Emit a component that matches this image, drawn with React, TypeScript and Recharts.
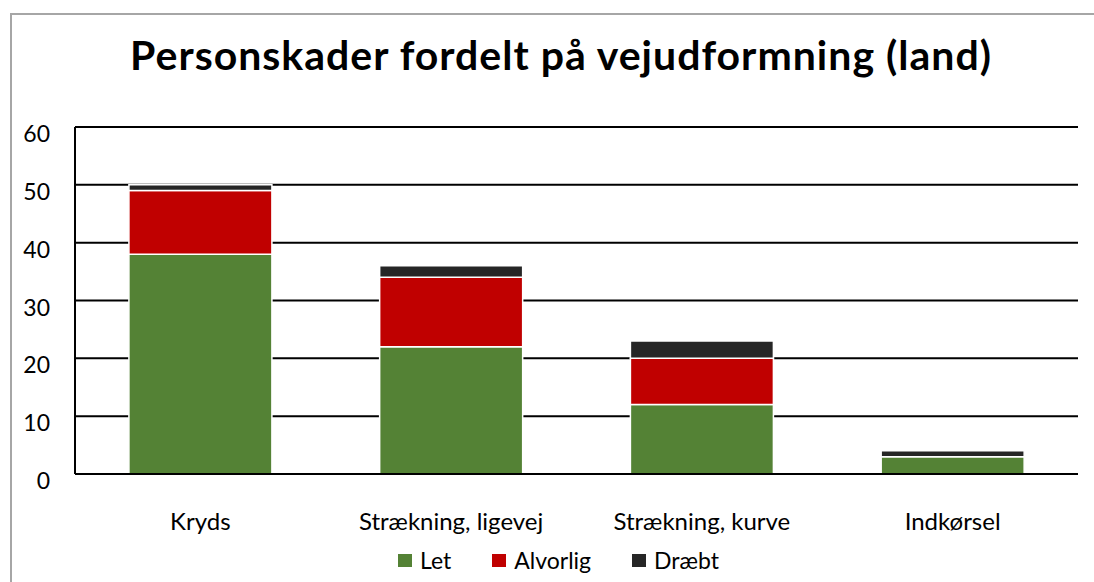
import React from "react";
import { BarChart, Bar, XAxis, YAxis, CartesianGrid, Legend } from "recharts";

const categories = ["Kryds", "Strækning, ligevej", "Strækning, kurve", "Indkørsel"];
const letValues = [38, 22, 12, 3];
const alvorligValues = [11, 12, 8, 0];
const draebtValues = [1, 2, 3, 1];
const yTicks = [0, 10, 20, 30, 40, 50, 60];

const seriesKeys = ["let", "alvorlig", "draebt"];
const seriesNames: Record<string, string> = { let: "Let", alvorlig: "Alvorlig", draebt: "Dræbt" };
const colors: Record<string, string> = { let: "#548235", alvorlig: "#C00000", draebt: "#262626" };
const title = "Personskader fordelt på vejudformning (land)";

const data = categories.map((c, i) => ({
  name: c,
  let: letValues[i],
  alvorlig: alvorligValues[i],
  draebt: draebtValues[i],
}));

const FONT = "Lato, 'Open Sans', sans-serif";

const LegendContent = (props: any) => {
  const { payload } = props;
  const sorted = [...(payload || [])].sort(
    (a: any, b: any) => seriesKeys.indexOf(a.dataKey) - seriesKeys.indexOf(b.dataKey)
  );
  return (
    <div style={{ display: "flex", justifyContent: "center", alignItems: "center", height: 28, paddingLeft: 14, fontFamily: FONT, fontSize: 23, color: "#000" }}>
      {sorted.map((p: any, i: number) => (
        <div key={i} style={{ display: "flex", alignItems: "center", marginLeft: i === 0 ? 0 : 41 }}>
          <div style={{ width: 14, height: 13, background: p.color, marginRight: 8 }} />
          <span>{p.value}</span>
        </div>
      ))}
    </div>
  );
};

const YTick = (props: any) => {
  const { x, y, payload } = props;
  return (
    <text x={x} y={y + 15} textAnchor="end" fontFamily={FONT} fontSize={23} fill="#000">
      {payload.value}
    </text>
  );
};

const XTick = (props: any) => {
  const { x, y, payload } = props;
  return (
    <text x={x} y={y + 54} textAnchor="middle" fontFamily={FONT} fontSize={24} fill="#000">
      {payload.value}
    </text>
  );
};

export default function App() {
  return (
    <div style={{ position: "absolute", left: 0, top: 0, width: 1094, height: 582, overflow: "hidden", background: "#fff" }}>
      <div style={{ position: "absolute", left: 10, top: 13, width: 1200, height: 700, border: "2px solid #a6a6a6" }} />
      <div style={{ position: "absolute", left: 0, top: 0 }}>
        <BarChart
          width={1094}
          height={582}
          data={data}
          margin={{ top: 127, right: 16, left: 25, bottom: 8 }}
          barCategoryGap="21.5%"
        >
          <text x={561} y={70} textAnchor="middle" fontFamily={FONT} fontWeight={700} fontSize={41} letterSpacing={1} fill="#000">
            {title}
          </text>
          <CartesianGrid vertical={false} stroke="#000" strokeWidth={2} />
          <XAxis
            dataKey="name"
            tickLine={false}
            tickSize={0}
            axisLine={{ stroke: "#000", strokeWidth: 2 }}
            tick={<XTick />}
            height={72}
            interval={0}
          />
          <YAxis
            domain={[0, 60]}
            ticks={yTicks}
            tickLine={false}
            tickSize={0}
            tickMargin={25}
            axisLine={{ stroke: "#000", strokeWidth: 2 }}
            tick={<YTick />}
            width={50}
            interval={0}
          />
          <Legend verticalAlign="bottom" height={28} content={<LegendContent />} />
          {seriesKeys.map((k) => (
            <Bar
              key={k}
              dataKey={k}
              name={seriesNames[k]}
              stackId="a"
              fill={colors[k]}
              stroke="#fff"
              strokeWidth={1.5}
              isAnimationActive={false}
            />
          ))}
        </BarChart>
      </div>
    </div>
  );
}
